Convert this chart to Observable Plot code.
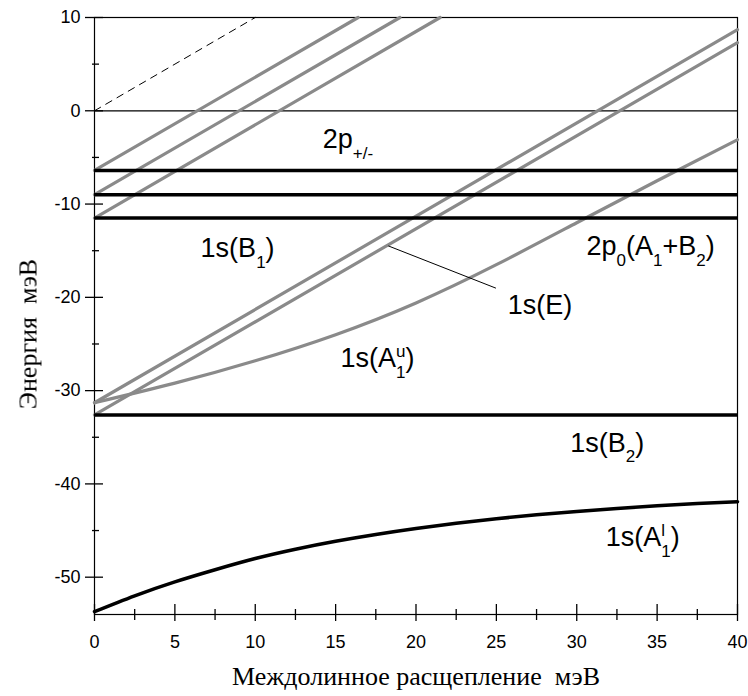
<!DOCTYPE html>
<html>
<head>
<meta charset="utf-8">
<script src="https://cdn.jsdelivr.net/npm/d3@7"></script>
<script src="https://cdn.jsdelivr.net/npm/@observablehq/plot@0.6"></script>
<style>
  html, body { margin: 0; padding: 0; background: #fff; }
  svg text { -webkit-font-smoothing: antialiased; }
  g.ytitle { opacity: 0.999; will-change: transform; }
</style>
</head>
<body>
<div id="chart"></div>
<script>
// ---- data ----
const xMajorTicks = [0, 5, 10, 15, 20, 25, 30, 35, 40];
const xMinorTicks = [2.5, 7.5, 12.5, 17.5, 22.5, 27.5, 32.5, 37.5];
const yMajorTicks = [-50, -40, -30, -20, -10, 0, 10];
const yMinorTicks = [-45, -35, -25, -15, -5, 5];

// black horizontal levels: 2p+/- group, 1s(B1), 1s(B2)
const flatLevels = [-6.4, -9.0, -11.5, -32.6];

// grey shifted (upper valley) straight lines: start at x=0, end at frame edge
const shiftedStartY = [-6.4, -9.0, -11.5, -31.3, -32.6];
const shiftedEndX = [16.4, 19.0, 21.5, 40, 40];
const shiftedEndY = [10, 10, 10, 8.7, 7.3];

// grey curve 1s(A1u) -> 2p0
const a1uX = [0, 5, 10, 15, 20, 25, 30, 35, 40];
const a1uY = [-31.3, -29.2, -26.8, -24.0, -20.6, -16.5, -12.0, -7.5, -3.1];

// black curve 1s(A1l)
const a1lX = [0, 2.5, 5, 7.5, 10, 12.5, 15, 17.5, 20, 22.5, 25, 27.5, 30, 32.5, 35, 37.5, 40];
const a1lY = [-53.7, -52.0, -50.5, -49.2, -48.0, -47.0, -46.15, -45.42, -44.78, -44.22, -43.73, -43.31, -42.95, -42.63, -42.35, -42.11, -41.9];

// dashed line
const dashX = [0, 10];
const dashY = [0, 10];

// leader line for 1s(E)
const leaderX = [18.3, 24.95];
const leaderY = [-14.5, -19.0];

// state labels (_{} subscript, ^{} superscript)
const labelText = ["2p_{+/-}", "1s(B_{1})", "1s(E)", "2p_{0}(A_{1}+B_{2})", "1s(A_{1}^{u})", "1s(B_{2})", "1s(A_{1}^{l})"];
const labelX = [14.2, 6.6, 25.7, 30.6, 15.3, 29.6, 31.8];
const labelY = [-3.1, -14.7, -20.9, -14.55, -26.5, -35.6, -45.7];

const xTitle = "Междолинное расщепление\u00a0\u00a0мэВ";
const yTitle = "Энергия\u00a0\u00a0мэВ";

// ---- build tables ----
const shifted = shiftedStartY.flatMap((y0, i) => [
  {id: i, x: 0, y: y0},
  {id: i, x: shiftedEndX[i], y: shiftedEndY[i]}
]);
const a1u = a1uX.map((x, i) => ({x, y: a1uY[i]}));
const a1l = a1lX.map((x, i) => ({x, y: a1lY[i]}));
const dash = dashX.map((x, i) => ({x, y: dashY[i]}));
const leader = leaderX.map((x, i) => ({x, y: leaderY[i]}));
const labels = labelText.map((t, i) => ({t, x: labelX[i], y: labelY[i]}));

const sans = "'Liberation Sans', Arial, Helvetica, sans-serif";
const serif = "'Liberation Serif', 'Times New Roman', serif";
const GREY = "#8a8a8a";

const chart = Plot.plot({
  width: 748,
  height: 696,
  marginLeft: 94,
  marginRight: 11,
  marginTop: 17,
  marginBottom: 82,
  x: {domain: [0, 40]},
  y: {domain: [-54, 10]},
  style: {fontFamily: sans, background: "#fff", color: "#000", overflow: "visible"},
  marks: [
    Plot.frame({stroke: "#000", strokeWidth: 1.2}),
    Plot.ruleY([0], {stroke: "#000", strokeWidth: 1.2}),
    Plot.line(dash, {x: "x", y: "y", stroke: "#000", strokeWidth: 1, strokeDasharray: "7,6"}),
    Plot.line(shifted, {x: "x", y: "y", z: "id", stroke: GREY, strokeWidth: 3.2}),
    Plot.line(a1u, {x: "x", y: "y", stroke: GREY, strokeWidth: 3.2, curve: "natural"}),
    Plot.ruleY(flatLevels, {x1: 0, x2: 40, stroke: "#000", strokeWidth: 3.5}),
    Plot.line(a1l, {x: "x", y: "y", stroke: "#000", strokeWidth: 3.5, curve: "natural"}),
    Plot.line(leader, {x: "x", y: "y", stroke: "#000", strokeWidth: 1}),
    // axis ticks
    Plot.axisX(xMajorTicks, {tickSize: 17, dy: -10, fill: "none", label: null, strokeWidth: 1.3}),
    Plot.axisX(xMinorTicks, {tickSize: 11, dy: -5, fill: "none", label: null, strokeWidth: 1.3}),
    Plot.axisY(yMajorTicks, {tickSize: 18, dx: 9, fill: "none", label: null, strokeWidth: 1.3}),
    Plot.axisY(yMinorTicks, {tickSize: 7, dx: 5, fill: "none", label: null, strokeWidth: 1.3}),
    // tick labels
    Plot.axisX(xMajorTicks, {tickSize: 0, tickPadding: 21, fontSize: 18, tickFormat: d => `${d}`, label: null, fill: "#000"}),
    Plot.axisY(yMajorTicks, {tickSize: 0, tickPadding: 14, fontSize: 18, tickFormat: d => `${d}`, label: null, fill: "#000"}),
    // titles
    Plot.text([xTitle], {frameAnchor: "bottom", textAnchor: "middle", lineAnchor: "middle", dy: 62, fontSize: 26, fontFamily: serif, fill: "#000", text: d => d}),
    Plot.text([yTitle], {frameAnchor: "left", textAnchor: "middle", lineAnchor: "middle", dx: -66, dy: 18, rotate: -90, fontSize: 26, fontFamily: serif, fill: "#000", text: d => d, className: "ytitle"}),
    // state labels
    Plot.text(labels, {x: "x", y: "y", text: "t", textAnchor: "start", lineAnchor: "middle", fontSize: 27, fontFamily: sans, fill: "#000"})
  ]
});

document.getElementById("chart").appendChild(chart);

// make sure the rotated title is drawn with plain grey-scale antialiasing
chart.querySelectorAll("text").forEach(el => {
  if (el.textContent === yTitle) el.parentNode.setAttribute("class", "ytitle");
});

// turn _{..} and ^{..} markup into real sub/superscript tspans
const NS = "http://www.w3.org/2000/svg";
const SUB_SIZE = 17, SUB_DY = 11, SUP_DY = -10;
const re = /_\{([^}]*)\}|\^\{([^}]*)\}|([^_^]+)/g;
chart.querySelectorAll("text").forEach(el => {
  const s = el.textContent;
  if (!labelText.includes(s)) return;
  el.textContent = "";
  let shift = 0, prevSub = null, pendingDx = 0;
  for (const m of s.matchAll(re)) {
    const t = document.createElementNS(NS, "tspan");
    let target = 0, txt;
    if (m[1] != null) { target = SUB_DY; txt = m[1]; t.setAttribute("font-size", SUB_SIZE); }
    else if (m[2] != null) { target = SUP_DY; txt = m[2]; t.setAttribute("font-size", SUB_SIZE); }
    else { txt = m[3]; }
    t.textContent = txt;
    const dy = target - shift;
    if (dy) t.setAttribute("dy", dy);
    shift = target;
    el.appendChild(t);
    if (pendingDx > 0) { t.setAttribute("dx", pendingDx); pendingDx = 0; }
    if (m[2] != null && prevSub) {
      const w = prevSub.getComputedTextLength();
      t.setAttribute("dx", -w);
      pendingDx = w - t.getComputedTextLength();
    }
    prevSub = m[1] != null ? t : null;
  }
});
</script>
</body>
</html>
